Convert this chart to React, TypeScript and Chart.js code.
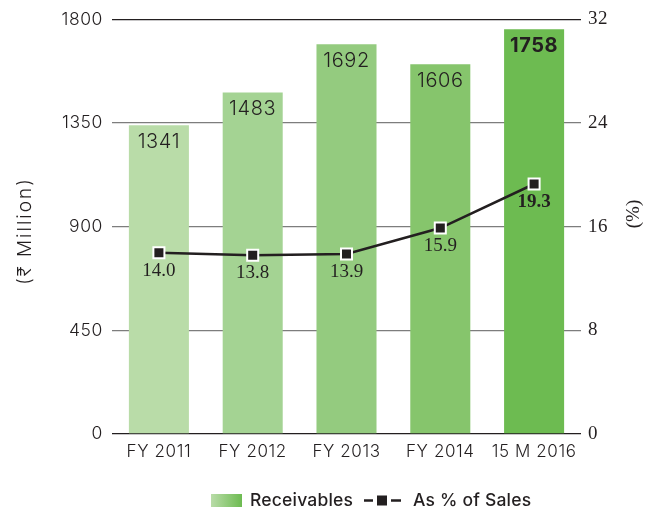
import React, { useEffect, useRef } from "react";
import { Chart, registerables } from "chart.js";

Chart.register(...registerables);

const categories = ["FY 2011", "FY 2012", "FY 2013", "FY 2014", "15 M 2016"];
const receivables = [1341, 1483, 1692, 1606, 1758];
const pctOfSales = [14.0, 13.8, 13.9, 15.9, 19.3];
const barColors = ["#b9dca8", "#a4d393", "#94cb7f", "#86c56c", "#6dbb51"];
const leftMax = 1800;
const leftStep = 450;
const rightMax = 32;
const rightStep = 8;
const leftTitle = "(₹ Million)";
const rightTitle = "(%)";
const legendBar = "Receivables";
const legendLine = "As % of Sales";

const SANS = "Inter, Lato, sans-serif";
const SERIF = "'Liberation Serif', 'DejaVu Serif', serif";
const INK = "#231f20";

const labelsPlugin = {
  id: "customLabels",
  beforeDraw(chart: any) {
    chart.ctx.letterSpacing = "0.6px";
  },
  afterDatasetsDraw(chart: any) {
    const ctx = chart.ctx;
    ctx.save();
    ctx.textAlign = "center";
    ctx.textBaseline = "middle";
    ctx.fillStyle = INK;
    const barMeta = chart.getDatasetMeta(0);
    barMeta.data.forEach((el: any, i: number) => {
      ctx.letterSpacing = "0.6px";
      ctx.font = (i === receivables.length - 1 ? "bold " : "300 ") + "20px " + SANS;
      ctx.fillText(String(receivables[i]), el.x, el.y + 16.5);
    });
    const lineMeta = chart.getDatasetMeta(1);
    lineMeta.data.forEach((el: any, i: number) => {
      ctx.letterSpacing = "0px";
      ctx.font = (i === pctOfSales.length - 1 ? "bold " : "") + "19px " + SERIF;
      ctx.fillText(pctOfSales[i].toFixed(1), el.x, el.y + 18);
    });
    ctx.restore();
  },
  afterDraw(chart: any) {
    const ctx = chart.ctx;
    ctx.save();
    ctx.fillStyle = INK;
    ctx.textBaseline = "middle";
    ctx.textAlign = "center";
    // axis titles
    ctx.font = "300 19px " + SANS;
    ctx.letterSpacing = "2px";
    ctx.save();
    ctx.translate(25, 231);
    ctx.rotate(-Math.PI / 2);
    ctx.fillText(leftTitle, 0, 0);
    ctx.restore();
    ctx.save();
    ctx.letterSpacing = "0px";
    ctx.font = "19px " + SERIF;
    ctx.translate(634, 214);
    ctx.rotate(-Math.PI / 2);
    ctx.fillText(rightTitle, 0, 0);
    ctx.restore();
    // legend
    const ly = 500.5;
    const grad = ctx.createLinearGradient(211, 0, 242, 0);
    grad.addColorStop(0, barColors[0]);
    grad.addColorStop(1, barColors[barColors.length - 1]);
    ctx.fillStyle = grad;
    ctx.fillRect(211, ly - 6.5, 31, 13);
    ctx.fillStyle = INK;
    ctx.textAlign = "left";
    ctx.font = "500 17.5px " + SANS;
    ctx.letterSpacing = "0.2px";
    ctx.fillText(legendBar, 250, ly);
    ctx.strokeStyle = INK;
    ctx.lineWidth = 2.5;
    ctx.beginPath();
    ctx.moveTo(364, ly);
    ctx.lineTo(373, ly);
    ctx.moveTo(391, ly);
    ctx.lineTo(401, ly);
    ctx.stroke();
    ctx.fillRect(377, ly - 5, 10, 10);
    ctx.fillText(legendLine, 413, ly);
    ctx.restore();
  },
};

export default function App() {
  const ref = useRef<HTMLCanvasElement>(null);
  useEffect(() => {
    if (!ref.current) return;
    const chart = new Chart(ref.current, {
      type: "bar",
      data: {
        labels: categories,
        datasets: [
          {
            type: "bar",
            label: legendBar,
            data: receivables,
            backgroundColor: barColors,
            barPercentage: 0.64,
            categoryPercentage: 1,
            yAxisID: "y",
            order: 2,
          },
          {
            type: "line",
            label: legendLine,
            data: pctOfSales,
            borderColor: INK,
            borderWidth: 2.5,
            pointStyle: "rect",
            pointRadius: 7.8,
            pointBorderWidth: 2,
            pointBorderColor: "#ffffff",
            pointBackgroundColor: INK,
            tension: 0,
            yAxisID: "y1",
            order: 1,
          } as any,
        ],
      },
      options: {
        responsive: false,
        animation: false,
        layout: { padding: { top: 18, left: 0, right: 0, bottom: 0 } },
        plugins: { legend: { display: false }, tooltip: { enabled: false } },
        scales: {
          x: {
            grid: { display: false, drawTicks: false },
            border: { display: false },
            ticks: { color: INK, font: { family: SANS, size: 17, weight: "300" }, padding: 8 },
            afterFit: (s: any) => {
              s.height = 77;
            },
          },
          y: {
            position: "left",
            min: 0,
            max: leftMax,
            ticks: {
              stepSize: leftStep,
              color: INK,
              font: { family: SANS, size: 17.5, weight: "300" },
              padding: 9,
              callback: (v: any) => String(v),
            },
            grid: {
              drawTicks: false,
              lineWidth: 1.3,
              color: (c: any) =>
                c.tick && (c.tick.value === 0 || c.tick.value === leftMax) ? INK : "#7d7d7d",
            },
            border: { display: false },
            afterFit: (s: any) => {
              s.width = 112;
            },
          },
          y1: {
            position: "right",
            min: 0,
            max: rightMax,
            ticks: {
              stepSize: rightStep,
              color: INK,
              font: { family: SERIF, size: 19 },
              padding: 7,
              callback: (v: any) => String(v),
            },
            grid: { display: false, drawTicks: false },
            border: { display: false },
            afterFit: (s: any) => {
              s.width = 71;
            },
          },
        },
      } as any,
      plugins: [labelsPlugin],
    });
    return () => chart.destroy();
  }, []);
  return (
    <div style={{ position: "absolute", left: 0, top: 0, width: 652, height: 511, background: "#fff" }}>
      <canvas ref={ref} width={652} height={511} />
    </div>
  );
}
